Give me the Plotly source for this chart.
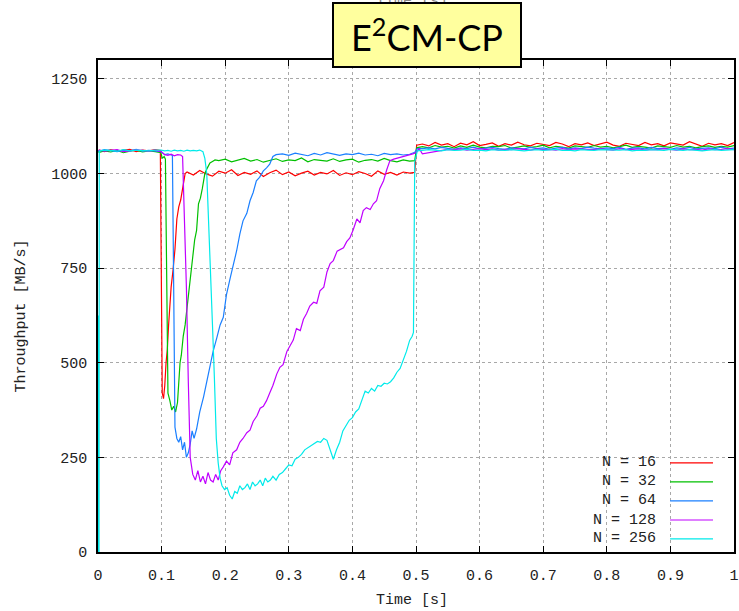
import plotly.graph_objects as go

# ---------------- data ----------------
PRE_T = [0.002, 0.01, 0.02, 0.03, 0.04, 0.05, 0.06, 0.07, 0.08, 0.09]
MID_T = [0.14, 0.15, 0.16, 0.17, 0.18, 0.19, 0.20, 0.21, 0.22, 0.23,
         0.24, 0.25, 0.26, 0.27, 0.28, 0.29, 0.30, 0.31, 0.32, 0.33,
         0.34, 0.35, 0.36, 0.37, 0.38, 0.39, 0.40, 0.41, 0.42, 0.43,
         0.44, 0.45, 0.46, 0.47, 0.48, 0.49]
POST_T = [0.51, 0.52, 0.53, 0.54, 0.55, 0.56, 0.57, 0.58, 0.59, 0.60,
          0.61, 0.62, 0.63, 0.64, 0.65, 0.66, 0.67, 0.68, 0.69, 0.70,
          0.71, 0.72, 0.73, 0.74, 0.75, 0.76, 0.77, 0.78, 0.79, 0.80,
          0.81, 0.82, 0.83, 0.84, 0.85, 0.86, 0.87, 0.88, 0.89, 0.90,
          0.91, 0.92, 0.93, 0.94, 0.95, 0.96, 0.97, 0.98, 0.99, 1.00]

LABELS = ["N = 16", "N = 32", "N = 64", "N = 128", "N = 256"]
COLORS = ["#ff0000", "#00c000", "#1a7fff", "#c000ff", "#00eaea"]

# N = 16
RED_START = [(0.0, 1060)]
RED_PRE = [1062, 1058, 1063, 1059, 1061, 1064, 1058, 1062, 1060, 1063]
RED_DROP = [(0.098, 1061), (0.100, 720), (0.101, 420), (0.103, 405), (0.105, 440),
            (0.107, 500), (0.109, 535), (0.111, 600), (0.113, 650), (0.115, 700),
            (0.118, 745), (0.121, 800), (0.124, 880), (0.127, 912), (0.130, 930),
            (0.133, 965), (0.137, 1000)]
RED_MID = [1004, 996, 1008, 999, 993, 1006, 1001, 1010, 995, 1003,
           998, 1007, 992, 1002, 1009, 997, 1004, 994, 1001, 1006,
           996, 1003, 999, 1008, 995, 1002, 997, 1005, 1000, 993,
           1007, 998, 1003, 996, 1004, 1001]
RED_JUMP = [(0.498, 1003), (0.501, 1075)]
RED_POST = [1078, 1073, 1082, 1075, 1079, 1071, 1080, 1076, 1084, 1074,
            1077, 1081, 1072, 1079, 1075, 1083, 1076, 1073, 1080, 1077,
            1074, 1082, 1078, 1071, 1079, 1076, 1081, 1074, 1078, 1083,
            1075, 1072, 1080, 1077, 1074, 1082, 1076, 1079, 1073, 1081,
            1077, 1075, 1084, 1078, 1072, 1080, 1076, 1079, 1074, 1082]

# N = 32
GREEN_START = [(0.0, 1058)]
GREEN_PRE = [1056, 1060, 1057, 1061, 1055, 1059, 1062, 1057, 1060, 1058]
GREEN_DROP = [(0.099, 1055), (0.101, 1040), (0.104, 1045), (0.106, 1038), (0.108, 600),
              (0.110, 420), (0.113, 400), (0.116, 375), (0.119, 385), (0.122, 370),
              (0.125, 395), (0.127, 450), (0.129, 500), (0.131, 520), (0.134, 570),
              (0.137, 600), (0.140, 650), (0.143, 700), (0.146, 745), (0.149, 780),
              (0.152, 825), (0.155, 850), (0.158, 920), (0.161, 935), (0.164, 960),
              (0.168, 1000), (0.172, 1015), (0.176, 1028), (0.180, 1032), (0.184, 1036)]
GREEN_MID = [1034, 1038, 1031, 1036, 1040, 1033, 1037, 1030, 1035, 1039,
             1032, 1036, 1034, 1041, 1031, 1037, 1035, 1033, 1039, 1032,
             1036, 1038, 1030, 1035, 1037, 1033, 1040, 1034, 1031, 1036,
             1033]
GREEN_JUMP = [(0.498, 1034), (0.501, 1068)]
GREEN_POST = [1071, 1068, 1074, 1070, 1072, 1067, 1073, 1069, 1075, 1070,
              1068, 1072, 1071, 1074, 1067, 1070, 1073, 1069, 1071, 1075,
              1068, 1072, 1070, 1067, 1073, 1071, 1069, 1074, 1070, 1072,
              1068, 1071, 1075, 1069, 1072, 1070, 1067, 1073, 1071, 1069,
              1074, 1070, 1072, 1068, 1071, 1073, 1069, 1072, 1070, 1074]

# N = 64
BLUE_START = [(0.0, 1061)]
BLUE_PRE = [1059, 1063, 1060, 1058, 1062, 1060, 1064, 1059, 1061, 1060]
BLUE_DROP = [(0.099, 1058), (0.105, 1050), (0.110, 1052), (0.115, 1049), (0.117, 1048),
             (0.119, 700), (0.121, 330), (0.124, 300), (0.127, 290), (0.130, 305),
             (0.133, 270), (0.136, 290), (0.139, 250), (0.142, 262), (0.145, 285),
             (0.148, 320), (0.151, 300), (0.155, 325), (0.160, 370), (0.166, 410),
             (0.171, 450), (0.176, 488), (0.181, 530), (0.187, 567), (0.192, 600),
             (0.197, 620), (0.202, 680), (0.208, 725), (0.213, 760), (0.218, 796),
             (0.223, 840), (0.228, 875), (0.234, 895), (0.239, 928), (0.244, 950),
             (0.249, 981), (0.254, 990), (0.260, 1007), (0.265, 1015), (0.270, 1025),
             (0.275, 1045), (0.280, 1050)]
BLUE_MID = [1052, 1048, 1054, 1050, 1047, 1053, 1049, 1055, 1051, 1048,
            1052, 1050, 1054, 1049, 1051, 1047, 1053, 1050, 1052, 1049,
            1051]
BLUE_JUMP = [(0.498, 1056), (0.502, 1066)]
BLUE_POST = [1066, 1068, 1065, 1069, 1067, 1064, 1068, 1066, 1070, 1065,
             1067, 1069, 1066, 1064, 1068, 1067, 1065, 1069, 1066, 1068,
             1064, 1067, 1069, 1065, 1068, 1066, 1070, 1067, 1065, 1068,
             1066, 1069, 1064, 1067, 1068, 1065, 1069, 1066, 1067, 1064,
             1068, 1066, 1069, 1065, 1067, 1068, 1066, 1070, 1065, 1067]

# N = 128
MAG_START = [(0.0, 1060)]
MAG_PRE = [1062, 1059, 1061, 1063, 1058, 1060, 1062, 1061, 1059, 1062]
MAG_DROP = [(0.099, 1058), (0.105, 1050), (0.110, 1048), (0.115, 1051), (0.120, 1047),
            (0.125, 1050), (0.130, 1049), (0.133, 1045), (0.136, 900), (0.139, 700),
            (0.142, 450), (0.145, 250), (0.149, 205), (0.153, 190), (0.157, 215),
            (0.161, 185), (0.165, 200), (0.169, 180), (0.173, 210), (0.177, 190),
            (0.181, 185), (0.185, 205), (0.189, 190), (0.193, 215), (0.197, 225),
            (0.202, 240), (0.207, 230), (0.212, 262), (0.218, 270), (0.223, 290),
            (0.228, 300), (0.234, 315), (0.239, 322), (0.244, 345), (0.250, 360),
            (0.255, 380), (0.260, 385), (0.265, 400), (0.270, 420), (0.275, 440),
            (0.281, 470), (0.286, 488), (0.291, 495), (0.297, 530), (0.302, 545),
            (0.307, 560), (0.312, 590), (0.318, 585), (0.323, 615), (0.328, 630),
            (0.333, 650), (0.339, 660), (0.344, 657), (0.349, 690), (0.355, 700),
            (0.360, 740), (0.365, 762), (0.370, 770), (0.376, 795), (0.381, 800),
            (0.386, 804), (0.391, 820), (0.396, 830), (0.401, 850), (0.407, 880),
            (0.412, 870), (0.417, 902), (0.422, 910), (0.428, 905), (0.433, 920),
            (0.438, 928), (0.443, 960), (0.449, 981), (0.454, 1010), (0.459, 1034),
            (0.465, 1038), (0.470, 1040), (0.475, 1042), (0.480, 1045), (0.485, 1048),
            (0.490, 1050), (0.495, 1052), (0.500, 1055), (0.505, 1066)]
MAG_POST = [1052, 1055, 1058, 1062, 1064, 1063, 1065, 1062, 1064, 1066,
            1063, 1065, 1062, 1064, 1063, 1066, 1064, 1062, 1065, 1063,
            1064, 1062, 1066, 1063, 1065, 1064, 1062, 1063, 1065, 1064,
            1062, 1066, 1063, 1064, 1065, 1062, 1064, 1063, 1066, 1064,
            1062, 1065, 1063, 1064, 1062, 1065, 1063, 1064, 1066, 1063]

# N = 256
CYAN_START = [(0.0, 625), (0.0004, 590), (0.0008, 0), (0.0016, 0)]
CYAN_PRE = [1060, 1062, 1061, 1059, 1063, 1060, 1062, 1061, 1060, 1062]
CYAN_DROP = [(0.099, 1062), (0.105, 1060), (0.110, 1061), (0.115, 1059), (0.120, 1062),
             (0.125, 1060), (0.130, 1061), (0.135, 1059), (0.140, 1062), (0.145, 1060),
             (0.150, 1061), (0.155, 1060), (0.160, 1062), (0.165, 1058), (0.168, 1040),
             (0.171, 1000), (0.174, 880), (0.177, 740), (0.180, 600), (0.183, 460),
             (0.186, 300), (0.189, 235), (0.192, 195), (0.195, 175), (0.199, 165),
             (0.203, 170), (0.207, 150), (0.211, 140), (0.215, 160), (0.219, 155),
             (0.223, 175), (0.227, 165), (0.231, 170), (0.235, 180), (0.239, 165),
             (0.243, 185), (0.247, 175), (0.251, 180), (0.255, 190), (0.259, 175),
             (0.263, 195), (0.267, 185), (0.271, 190), (0.275, 200), (0.280, 190),
             (0.285, 205), (0.290, 210), (0.295, 220), (0.300, 230), (0.305, 228),
             (0.310, 245), (0.315, 250), (0.320, 258), (0.325, 270), (0.330, 275),
             (0.335, 282), (0.340, 285), (0.345, 292), (0.350, 290), (0.355, 300),
             (0.360, 295), (0.365, 270), (0.370, 245), (0.375, 270), (0.380, 290),
             (0.385, 320), (0.390, 335), (0.395, 348), (0.400, 355), (0.405, 370),
             (0.410, 378), (0.415, 400), (0.420, 425), (0.425, 420), (0.430, 432),
             (0.435, 425), (0.440, 440), (0.445, 438), (0.450, 446), (0.455, 444),
             (0.460, 450), (0.465, 460), (0.470, 475), (0.475, 485), (0.480, 506),
             (0.485, 530), (0.490, 559), (0.494, 570), (0.496, 580), (0.498, 1030),
             (0.502, 1060)]
CYAN_POST = [1061, 1063, 1062, 1060, 1063, 1061, 1062, 1064, 1061, 1062,
             1060, 1063, 1062, 1061, 1063, 1062, 1060, 1062, 1063, 1061,
             1062, 1064, 1061, 1062, 1060, 1063, 1062, 1061, 1063, 1062,
             1061, 1062, 1063, 1060, 1062, 1061, 1063, 1062, 1061, 1064,
             1062, 1061, 1063, 1062, 1060, 1062, 1063, 1061, 1062, 1063]

X_TICKS = [0, 0.1, 0.2, 0.3, 0.4, 0.5, 0.6, 0.7, 0.8, 0.9, 1]
X_TICKTEXT = ["0", "0.1", "0.2", "0.3", "0.4", "0.5", "0.6", "0.7", "0.8", "0.9", "1"]
Y_TICKS = [0, 250, 500, 750, 1000, 1250]


def build(start, pre, drop, mid_t, mid, jump, post):
    assert len(pre) == len(PRE_T) and len(post) == len(POST_T) and len(mid) == len(mid_t)
    t = [p[0] for p in start] + PRE_T + [p[0] for p in drop] + list(mid_t) + [p[0] for p in jump] + POST_T
    v = [p[1] for p in start] + pre + [p[1] for p in drop] + list(mid) + [p[1] for p in jump] + post
    return t, v


SERIES = [
    build(RED_START, RED_PRE, RED_DROP, MID_T, RED_MID, RED_JUMP, RED_POST),
    build(GREEN_START, GREEN_PRE, GREEN_DROP, MID_T[5:], GREEN_MID, GREEN_JUMP, GREEN_POST),
    build(BLUE_START, BLUE_PRE, BLUE_DROP, MID_T[15:], BLUE_MID, BLUE_JUMP, BLUE_POST),
    build(MAG_START, MAG_PRE, MAG_DROP, [], [], [], MAG_POST),
    build(CYAN_START, CYAN_PRE, CYAN_DROP, [], [], [], CYAN_POST),
]

MONO = "Liberation Mono"
TXT = "#222222"

fig = go.Figure()
for (t, v), name, col in zip(SERIES, LABELS, COLORS):
    fig.add_trace(go.Scatter(x=t, y=v, mode="lines", name=name,
                             line=dict(color=col, width=1.2), showlegend=False))

# custom legend (text on the left, sample line on the right, as gnuplot draws it)
row_y = [0.181, 0.1425, 0.104, 0.065, 0.0265]
for name, col, ry in zip(LABELS, COLORS, row_y):
    fig.add_annotation(xref="paper", yref="paper", x=0.8805, y=ry, text=name,
                       showarrow=False, xanchor="right", yanchor="middle",
                       font=dict(family=MONO, size=15, color=TXT))
    fig.add_shape(type="line", xref="paper", yref="paper", x0=0.8995, x1=0.967,
                  y0=ry, y1=ry, line=dict(color=col, width=1.2))

# axis titles
fig.add_annotation(xref="paper", yref="paper", x=0.494, y=-0.098, text="Time [s]",
                   showarrow=False, xanchor="center", yanchor="middle",
                   font=dict(family=MONO, size=15, color=TXT))
fig.add_annotation(xref="paper", yref="paper", x=-0.12, y=0.48, text="Throughput [MB/s]",
                   showarrow=False, textangle=-90, xanchor="center", yanchor="middle",
                   font=dict(family=MONO, size=15, color=TXT))
# cropped duplicate label at the very top of the image
fig.add_annotation(xref="paper", yref="paper", x=0.494, y=1.119, text="Time [s]",
                   showarrow=False, xanchor="center", yanchor="middle",
                   font=dict(family=MONO, size=15, color="#888888"))
# title box
fig.add_annotation(xref="paper", yref="paper", x=0.518, y=1.0508, text="E<sup>2</sup>CM-CP",
                   showarrow=False, xanchor="center", yanchor="middle",
                   width=186, height=62, bgcolor="#ffff9e", bordercolor="#000000",
                   borderwidth=2, borderpad=0,
                   font=dict(family="Lato", size=36, color="#000000"))

axis_common = dict(showline=True, linecolor="#000000", linewidth=1.5, mirror="allticks",
                   ticks="inside", ticklen=6, tickcolor="#000000", automargin=False,
                   showgrid=True, gridcolor="#a8a8a8", griddash="dot", gridwidth=1,
                   zeroline=False, tickfont=dict(family=MONO, size=15, color=TXT))

fig.update_xaxes(range=[0, 1], tickvals=X_TICKS, ticktext=X_TICKTEXT,
                 ticklabelstandoff=8, **axis_common)
fig.update_yaxes(range=[0, 1300], tickvals=Y_TICKS, ticklabelstandoff=6, **axis_common)

fig.update_layout(width=739, height=611, margin=dict(l=98, r=5, t=60, b=59, autoexpand=False),
                  plot_bgcolor="#ffffff", paper_bgcolor="#ffffff")

fig.write_html("out.html")
